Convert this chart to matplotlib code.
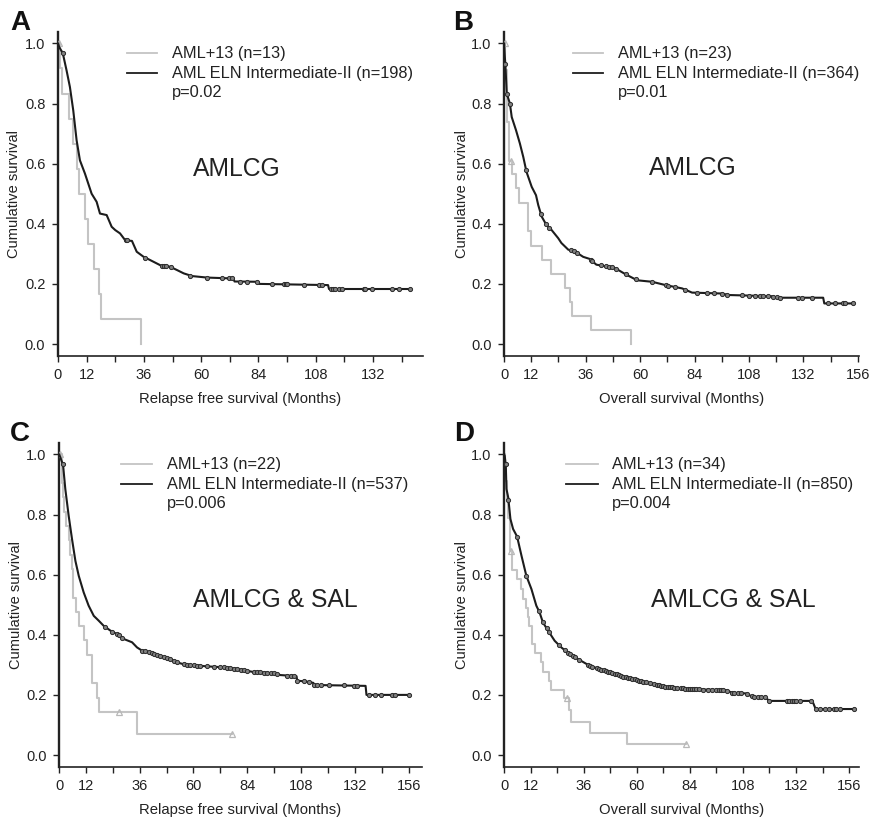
import numpy as np
import matplotlib
matplotlib.use("Agg")
from matplotlib import pyplot as plt

plt.rcParams["font.family"] = ["Liberation Sans", "DejaVu Sans"]

# ---- panel A: AMLCG, relapse free survival ----
a_gray_t = [0.8, 1.5, 4.8, 6.2, 7.8, 9.0, 11.3, 12.7, 15.1, 17.2, 17.9, 34.9]
a_gray_s = [0.917, 0.833, 0.75, 0.667, 0.583, 0.5, 0.417, 0.333, 0.25, 0.167, 0.083, 0.0]
a_gray_cens = [0.5]
a_gray_end = 34.9
a_blk_t = [0, 0.5, 2, 3.6, 5, 6.4, 7.8, 9.2, 11.3, 14.1, 16.2, 17.6, 20.4, 22.5, 24, 26,
           28.2, 31, 33, 35.9, 38.7, 42.9, 47, 49.9, 52.7, 56.2, 62.5, 73.5, 74, 84.0,
           84.3, 113.2, 113.6, 147.9]
a_blk_s = [1.0, 0.988, 0.968, 0.91, 0.855, 0.777, 0.678, 0.611, 0.567, 0.50, 0.473, 0.434,
           0.429, 0.39, 0.379, 0.368, 0.345, 0.343, 0.307, 0.29, 0.279, 0.262, 0.257, 0.246,
           0.235, 0.226, 0.221, 0.218, 0.208, 0.207, 0.2, 0.196, 0.183, 0.183]
a_blk_cens = [2.0, 28.6, 29.0, 36.6, 43.6, 44.3, 45.3, 47.3, 55.5, 62.5, 68.8, 71.6, 73.0,
              76.5, 79.3, 83.5, 89.8, 94.7, 95.4, 96.0, 103.0, 109.4, 110.8, 114.3, 115.2,
              116.3, 117.7, 119.2, 128.3, 128.8, 131.8, 140.2, 143.0, 147.5]

# ---- panel B: AMLCG, overall survival ----
b_gray_t = [0.6, 1.2, 2.4, 3.65, 5.5, 6.7, 10.6, 12.0, 16.9, 20.5, 26.7, 29.2, 30.1, 38.4, 55.8]
b_gray_s = [0.913, 0.74, 0.61, 0.565, 0.52, 0.47, 0.376, 0.327, 0.28, 0.233, 0.186, 0.14,
            0.093, 0.047, 0.0]
b_gray_cens = [0.3, 3.2]
b_gray_end = 55.8
b_blk_t = [0, 0.3, 0.6, 1.2, 2.6, 3.4, 5.3, 7.0, 8.5, 9.9, 12.2, 14.1, 15.1, 16.6, 18.7,
           20.9, 23.9, 25.3, 28.3, 31.2, 34.9, 37.8, 40.7, 44.4, 48, 49.5, 53.6, 58.7,
           65.3, 71.2, 78.5, 82.9, 96, 99, 118, 121, 140.7, 141.2, 153.9]
b_blk_s = [1.0, 0.96, 0.93, 0.833, 0.80, 0.755, 0.711, 0.667, 0.622, 0.573, 0.523, 0.495,
           0.462, 0.424, 0.396, 0.38, 0.352, 0.336, 0.314, 0.308, 0.29, 0.283, 0.264, 0.259,
           0.255, 0.25, 0.232, 0.212, 0.207, 0.196, 0.185, 0.171, 0.168, 0.163, 0.159, 0.154,
           0.154, 0.135, 0.135]
b_blk_cens = [0.6, 1.2, 2.6, 9.7, 16.3, 18.5, 19.9, 29.4, 30.9, 32.0, 38.2, 39.0, 42.6,
              44.8, 46.3, 47.8, 49.2, 53.6, 58.0, 65.3, 71.2, 72.5, 75.5, 79.9, 85.0, 89.5,
              92.4, 96.0, 98.2, 104.8, 107.8, 110.7, 112.9, 114.3, 116.5, 118.7, 120.2, 121.7,
              129.7, 131.2, 135.6, 142.9, 145.8, 149.5, 150.2, 153.9]

# ---- panel C: AMLCG & SAL, relapse free survival ----
c_gray_t = [1.2, 1.8, 2.1, 3.3, 4.3, 5.1, 5.8, 6.3, 7.7, 8.8, 11.3, 12.5, 14.7, 17.0, 17.7, 34.8]
c_gray_s = [0.905, 0.857, 0.81, 0.762, 0.714, 0.667, 0.619, 0.524, 0.476, 0.429, 0.381,
            0.333, 0.238, 0.19, 0.143, 0.071]
c_gray_cens = [0.6, 26.6, 77.2]
c_gray_end = 77.2
c_blk_t = [0, 0.3, 1.8, 2.8, 4.3, 5.8, 7.3, 8.8, 11, 13.2, 15.5, 17.7, 19.9, 22.9, 25.9,
           28.9, 32.6, 34.8, 37.1, 40.8, 45.2, 49.7, 52.7, 57.1, 62.4, 66, 75, 79.5, 86.9,
           95.8, 98.8, 104.8, 106.0, 106.3, 110, 113.5, 113.7, 136.8, 137.2, 156.1]
c_blk_s = [1.0, 0.996, 0.965, 0.885, 0.796, 0.718, 0.646, 0.596, 0.541, 0.497, 0.463, 0.447,
           0.43, 0.414, 0.402, 0.386, 0.375, 0.358, 0.347, 0.341, 0.33, 0.319, 0.308, 0.299,
           0.297, 0.295, 0.291, 0.286, 0.276, 0.272, 0.266, 0.263, 0.262, 0.247, 0.245, 0.24,
           0.233, 0.23, 0.2, 0.2]
c_blk_cens = [1.6, 20.7, 23.7, 25.9, 26.6, 28.1, 37.1, 38.5, 40.1, 41.6, 42.3, 43.8, 45.2,
              46.7, 48.2, 49.7, 51.2, 52.7, 55.7, 57.1, 58.6, 60.1, 61.6, 63.1, 66.1, 69.0,
              72.0, 73.5, 75.0, 76.5, 78.0, 79.5, 81.0, 82.4, 83.9, 86.9, 88.4, 89.9, 91.4,
              92.9, 94.4, 95.8, 97.3, 101.8, 103.3, 104.8, 106.3, 109.2, 111.5, 113.7, 115.2,
              116.7, 120.4, 127.0, 131.5, 133.0, 138.2, 141.2, 143.5, 148.7, 150.1, 156.1]

# ---- panel D: AMLCG & SAL, overall survival ----
d_gray_t = [0.5, 0.8, 1.1, 1.5, 2.0, 2.6, 3.6, 5.7, 7.5, 8.6, 9.8, 10.9, 11.5, 12.5, 14.0,
            16.6, 17.6, 20.3, 21.1, 27.1, 29.4, 30.1, 38.7, 55.8]
d_gray_s = [0.97, 0.94, 0.91, 0.85, 0.79, 0.68, 0.617, 0.585, 0.553, 0.52, 0.49, 0.46, 0.43,
            0.37, 0.34, 0.31, 0.275, 0.245, 0.215, 0.19, 0.15, 0.111, 0.074, 0.037]
d_gray_cens = [3.2, 28.3, 82.1]
d_gray_end = 82.1
d_blk_t = [0, 0.3, 0.8, 1.1, 1.9, 2.9, 4.1, 5.9, 7.9, 10.1, 12.4, 14.6, 16.1, 17.6, 19.9,
           22.9, 25.9, 29.7, 33.5, 38.7, 43.3, 49.3, 55.3, 61.4, 67.4, 73.4, 79.4, 89.7,
           100.2, 103.2, 109.3, 112.3, 118.3, 119.8, 139.4, 140.9, 158.3]
d_blk_s = [1.0, 0.996, 0.965, 0.885, 0.857, 0.785, 0.752, 0.727, 0.663, 0.596, 0.552, 0.497,
           0.474, 0.441, 0.414, 0.38, 0.358, 0.336, 0.319, 0.297, 0.286, 0.272, 0.258, 0.247,
           0.236, 0.227, 0.222, 0.218, 0.216, 0.207, 0.205, 0.194, 0.192, 0.18, 0.18, 0.153,
           0.153]
d_blk_cens = [0.75, 2.0, 6.0, 10.1, 15.8, 17.6, 19.3, 20.3, 25.0, 27.5, 29, 30, 31, 32, 34,
              38, 39, 40, 42, 43, 44, 45, 46, 47, 48, 49, 50, 51, 52, 53, 54, 55, 56, 57, 58,
              59, 60, 61, 62, 63, 64, 66, 68, 69, 70, 71, 72, 73, 74, 75, 76, 77, 78, 80, 81,
              82, 83, 84, 85, 86, 87, 88, 90, 92, 94, 96, 97, 98, 99, 101, 103, 104, 106, 107,
              110, 112, 113, 115, 116, 118, 120, 128, 129, 130, 131, 132, 134, 139, 141, 143,
              145, 147, 149, 150, 152, 158.3]

letters = ["A", "B", "C", "D"]
cohorts = ["AMLCG", "AMLCG", "AMLCG & SAL", "AMLCG & SAL"]
xlabels = ["Relapse free survival (Months)", "Overall survival (Months)",
           "Relapse free survival (Months)", "Overall survival (Months)"]
n_gray = [13, 23, 22, 34]
n_blk = [198, 364, 537, 850]
pvals = ["p=0.02", "p=0.01", "p=0.006", "p=0.004"]
xmax = [153, 156.5, 162, 160.5]
xtick_max = [144, 156, 156, 156]
labeled_ticks = [0, 12, 36, 60, 84, 108, 132, 156]

gray_t = [a_gray_t, b_gray_t, c_gray_t, d_gray_t]
gray_s = [a_gray_s, b_gray_s, c_gray_s, d_gray_s]
gray_cens = [a_gray_cens, b_gray_cens, c_gray_cens, d_gray_cens]
gray_end = [a_gray_end, b_gray_end, c_gray_end, d_gray_end]
blk_t = [a_blk_t, b_blk_t, c_blk_t, d_blk_t]
blk_s = [a_blk_s, b_blk_s, c_blk_s, d_blk_s]
blk_cens = [a_blk_cens, b_blk_cens, c_blk_cens, d_blk_cens]

# layout (figure fractions)
rects = [[0.0665, 0.5674, 0.4186, 0.3937], [0.578, 0.5674, 0.4071, 0.3937],
         [0.0677, 0.068, 0.4163, 0.3937], [0.578, 0.068, 0.4071, 0.3937]]
letter_xy = [(0.0115, 0.9635), (0.5195, 0.9635), (0.0115, 0.4640), (0.5205, 0.4640)]
leg_line_x = [(0.188, 0.270), (0.193, 0.278), (0.170, 0.255), (0.175, 0.264)]
leg_text_x = [0.311, 0.320, 0.297, 0.304]
cohort_xy = [(0.371, 0.556), (0.409, 0.559), (0.370, 0.494), (0.414, 0.494)]

GRAY = "#c4c4c4"
DARK = "#1c1c1c"
TXT = "#222222"

fig = plt.figure(figsize=(8.72, 8.23), dpi=100)

for i in range(4):
    ax = fig.add_axes(rects[i])
    gt = np.array(gray_t[i]); gs = np.array(gray_s[i])
    gx = np.r_[0, gt, gray_end[i]]
    gy = np.r_[1.0, gs, gs[-1]]
    ax.step(gx, gy, where="post", color=GRAY, lw=1.5, zorder=2)
    gc = np.array(gray_cens[i])
    gcv = np.r_[1.0, gs][np.searchsorted(gt, gc, side="right")]
    ax.plot(gc, gcv, "^", ms=5, mfc="none", mec="#b8b8b8", mew=0.9, zorder=3)

    bt = np.array(blk_t[i]); bs = np.array(blk_s[i])
    ax.plot(bt, bs, color=DARK, lw=1.5, zorder=4)
    bc = np.array(blk_cens[i])
    ax.plot(bc, np.interp(bc, bt, bs), "o", ms=3.0, mfc="#808080", mec="#2a2a2a",
            mew=0.7, zorder=5)

    ax.set_xlim(0, xmax[i])
    ax.set_ylim(-0.04, 1.038)
    ticks = np.arange(0, xtick_max[i] + 1, 12)
    ax.set_xticks(ticks)
    ax.set_xticklabels([str(t) if t in labeled_ticks else "" for t in ticks])
    ax.set_yticks([0, 0.2, 0.4, 0.6, 0.8, 1.0])
    ax.set_yticklabels(["0.0", "0.2", "0.4", "0.6", "0.8", "1.0"])
    ax.tick_params(axis="both", labelsize=10.5, colors=TXT, width=1.0, length=4.3, pad=4)
    ax.tick_params(axis="y", pad=4.8)
    for s in ["top", "right"]:
        ax.spines[s].set_visible(False)
    ax.spines["left"].set_linewidth(1.7)
    ax.spines["bottom"].set_linewidth(1.2)
    ax.spines["left"].set_color("#222222")
    ax.spines["bottom"].set_color("#222222")

    ax.set_ylabel("Cumulative survival", fontsize=10.5, color=TXT)
    ax.yaxis.set_label_coords(-0.10, 0.5)
    ax.set_xlabel(xlabels[i], fontsize=10.7, color=TXT)
    ax.xaxis.set_label_coords(0.5, -0.112)

    # legend drawn by hand
    x0, x1 = leg_line_x[i]
    ax.plot([x0, x1], [0.935, 0.935], transform=ax.transAxes, color=GRAY, lw=1.3, clip_on=False)
    ax.plot([x0, x1], [0.875, 0.875], transform=ax.transAxes, color=DARK, lw=1.3, clip_on=False)
    tx = leg_text_x[i]
    ax.text(tx, 0.919, f"AML+13 (n={n_gray[i]})", transform=ax.transAxes, fontsize=11.8,
            color=TXT, va="baseline")
    ax.text(tx, 0.859, f"AML ELN Intermediate-II (n={n_blk[i]})", transform=ax.transAxes,
            fontsize=11.8, color=TXT, va="baseline")
    ax.text(tx, 0.798, pvals[i], transform=ax.transAxes, fontsize=11.8, color=TXT,
            va="baseline")
    cx, cy = cohort_xy[i]
    ax.text(cx, cy, cohorts[i], transform=ax.transAxes, fontsize=17.8, color=TXT,
            va="baseline")

    lx, ly = letter_xy[i]
    fig.text(lx, ly, letters[i], fontsize=20, fontweight="bold", color="#111111",
             va="baseline")

fig.savefig("out.png", dpi=100)
